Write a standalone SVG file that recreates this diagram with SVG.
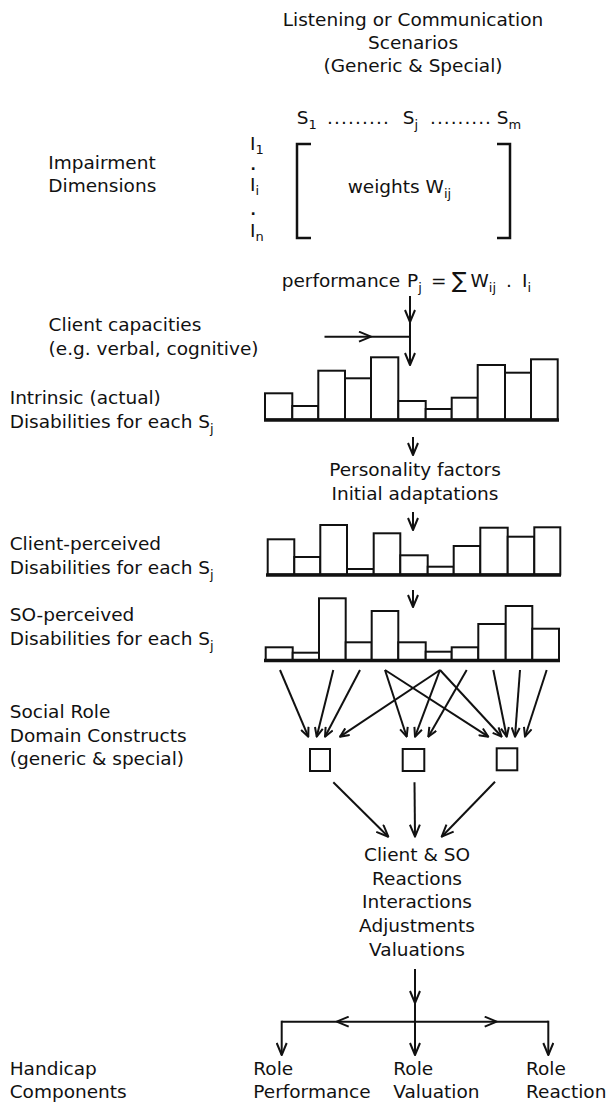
<svg xmlns="http://www.w3.org/2000/svg" width="609" height="1103" viewBox="0 0 609 1103">
<style>
.t{font-family:"DejaVu Sans","Liberation Sans",sans-serif;font-size:18.5px;fill:#111}
.c{text-anchor:middle}
.sub{font-size:13px}
.dot{font-size:14px;font-weight:bold}
.ln{stroke:#111;stroke-width:2;fill:none}
.bar{fill:#fff;stroke:#111;stroke-width:2}
.base{stroke:#111;stroke-width:3.5}
.br{stroke:#111;stroke-width:2.5;fill:none}
</style>
<defs>
<marker id="ah" markerUnits="userSpaceOnUse" viewBox="0 0 14 12" refX="13" refY="6" markerWidth="14" markerHeight="12" orient="auto"><path d="M1,1 L13,6 L1,11" fill="none" stroke="#111" stroke-width="2" stroke-linejoin="round"/></marker>
<marker id="ahs" markerUnits="userSpaceOnUse" viewBox="0 0 11 10" refX="10" refY="5" markerWidth="11" markerHeight="10" orient="auto"><path d="M1,1 L10,5 L1,9" fill="none" stroke="#111" stroke-width="2" stroke-linejoin="round"/></marker>
</defs>
<rect width="609" height="1103" fill="#fff"/>

<g id="scenarios">
<text class="t c" x="413" y="26">Listening or Communication</text>
<text class="t c" x="413" y="49">Scenarios</text>
<text class="t c" x="413" y="72">(Generic &amp; Special)</text>
<text class="t" x="296.7" y="124">S<tspan class="sub" dy="5">1</tspan></text>
<text class="t" x="327" y="124" textLength="62">.........</text>
<text class="t" x="402.7" y="124">S<tspan class="sub" dy="5">j</tspan></text>
<text class="t" x="430" y="124" textLength="61">.........</text>
<text class="t" x="496.7" y="124">S<tspan class="sub" dy="5">m</tspan></text>
</g>

<g id="impairment">
<text class="t" x="48.3" y="169">Impairment</text>
<text class="t" x="48.3" y="192">Dimensions</text>
<text class="t" x="250" y="150">I<tspan class="sub" dy="4">1</tspan></text>
<text class="t dot" x="250.5" y="170">.</text>
<text class="t" x="250" y="191">I<tspan class="sub" dy="4">i</tspan></text>
<text class="t dot" x="250.5" y="215">.</text>
<text class="t" x="250" y="237">I<tspan class="sub" dy="4">n</tspan></text>
</g>

<g id="matrix">
<path class="br" d="M311,144 L297,144 L297,238 L311,238"/>
<path class="br" d="M497,144 L510,144 L510,238 L497,238"/>
<text class="t" x="347.7" y="193">weights W<tspan class="sub" dy="5">ij</tspan></text>
</g>

<g id="performance">
<text class="t" x="281.7" y="287">performance</text>
<text class="t" x="407" y="287">P<tspan class="sub" dy="5">j</tspan></text>
<text class="t" x="431" y="287">=</text>
<text class="t" x="452" y="288" style="font-size:22px">∑</text>
<text class="t" x="470.5" y="287">W<tspan class="sub" dy="5">ij</tspan></text>
<text class="t" x="506" y="287">.</text>
<text class="t" x="522" y="287">I<tspan class="sub" dy="5">i</tspan></text>
</g>

<g id="client-capacities">
<text class="t" x="48.6" y="331">Client capacities</text>
<text class="t" x="48.6" y="355">(e.g. verbal, cognitive)</text>
</g>

<g id="intrinsic">
<text class="t" x="9.7" y="404">Intrinsic (actual)</text>
<text class="t" x="9.7" y="428">Disabilities for each S<tspan class="sub" dy="5">j</tspan></text>
<rect class="bar" x="265" y="393.3" width="27.3" height="26.2"/>
<rect class="bar" x="292.3" y="406" width="26" height="13.5"/>
<rect class="bar" x="318.3" y="370.7" width="26.7" height="48.8"/>
<rect class="bar" x="345" y="378.3" width="26" height="41.2"/>
<rect class="bar" x="371" y="357.3" width="27.3" height="62.2"/>
<rect class="bar" x="398.3" y="401" width="27.4" height="18.5"/>
<rect class="bar" x="425.7" y="409" width="26" height="10.5"/>
<rect class="bar" x="451.7" y="397.7" width="26" height="21.8"/>
<rect class="bar" x="477.7" y="365" width="27.3" height="54.5"/>
<rect class="bar" x="505" y="372.7" width="26" height="46.8"/>
<rect class="bar" x="531" y="359.3" width="26.7" height="60.2"/>
<line class="base" x1="264" y1="420" x2="559" y2="420"/>
</g>

<g id="personality">
<text class="t c" x="415" y="476">Personality factors</text>
<text class="t c" x="415" y="500">Initial adaptations</text>
</g>

<g id="client-perceived">
<text class="t" x="9.7" y="550">Client-perceived</text>
<text class="t" x="9.7" y="573.5">Disabilities for each S<tspan class="sub" dy="5">j</tspan></text>
<rect class="bar" x="267.7" y="539.3" width="26.6" height="35.2"/>
<rect class="bar" x="294.3" y="557" width="26" height="17.5"/>
<rect class="bar" x="320.3" y="525" width="26.7" height="49.5"/>
<rect class="bar" x="347" y="569" width="26.7" height="5.5"/>
<rect class="bar" x="373.7" y="533.3" width="26.6" height="41.2"/>
<rect class="bar" x="400.3" y="555.3" width="27.4" height="19.2"/>
<rect class="bar" x="427.7" y="566.7" width="26" height="7.8"/>
<rect class="bar" x="453.7" y="546" width="26.6" height="28.5"/>
<rect class="bar" x="480.3" y="527.7" width="27.4" height="46.8"/>
<rect class="bar" x="507.7" y="536.7" width="26.6" height="37.8"/>
<rect class="bar" x="534.3" y="527.3" width="26" height="47.2"/>
<line class="base" x1="266" y1="575" x2="561" y2="575"/>
</g>

<g id="so-perceived">
<text class="t" x="9.7" y="621">SO-perceived</text>
<text class="t" x="9.7" y="645">Disabilities for each S<tspan class="sub" dy="5">j</tspan></text>
<rect class="bar" x="265.7" y="647.3" width="27" height="12.7"/>
<rect class="bar" x="292.7" y="652.7" width="26.3" height="7.3"/>
<rect class="bar" x="319" y="598.3" width="26.7" height="61.7"/>
<rect class="bar" x="345.7" y="642.3" width="26" height="17.7"/>
<rect class="bar" x="371.7" y="611" width="26.6" height="49"/>
<rect class="bar" x="398.3" y="642.3" width="27.4" height="17.7"/>
<rect class="bar" x="425.7" y="651.7" width="26" height="8.3"/>
<rect class="bar" x="451.7" y="647.3" width="26.6" height="12.7"/>
<rect class="bar" x="478.3" y="624" width="27.4" height="36"/>
<rect class="bar" x="505.7" y="606" width="26.6" height="54"/>
<rect class="bar" x="532.3" y="628.7" width="26.7" height="31.3"/>
<line class="base" x1="264" y1="660.5" x2="560" y2="660.5"/>
</g>

<g id="social-role">
<text class="t" x="9.7" y="718">Social Role</text>
<text class="t" x="9.7" y="742">Domain Constructs</text>
<text class="t" x="9.7" y="765">(generic &amp; special)</text>
<rect class="bar" x="310" y="749" width="20" height="22"/>
<rect class="bar" x="402.7" y="749" width="21.6" height="22"/>
<rect class="bar" x="496.7" y="748.3" width="20.6" height="22"/>
</g>

<g id="reactions">
<text class="t c" x="417" y="861">Client &amp; SO</text>
<text class="t c" x="417" y="884.5">Reactions</text>
<text class="t c" x="417" y="908.3">Interactions</text>
<text class="t c" x="417" y="932">Adjustments</text>
<text class="t c" x="417" y="955.7">Valuations</text>
</g>

<g id="handicap">
<text class="t" x="9.7" y="1075">Handicap</text>
<text class="t" x="9.7" y="1098">Components</text>
</g>
<g id="role-performance">
<text class="t" x="253.3" y="1075">Role</text>
<text class="t" x="253.3" y="1098">Performance</text>
</g>
<g id="role-valuation">
<text class="t" x="393.3" y="1075">Role</text>
<text class="t" x="393.3" y="1098">Valuation</text>
</g>
<g id="role-reaction">
<text class="t" x="526" y="1075">Role</text>
<text class="t" x="526" y="1098">Reaction</text>
</g>

<g id="connectors">
<line class="ln" x1="410" y1="296" x2="410" y2="322" marker-end="url(#ah)"/>
<line class="ln" x1="410" y1="322" x2="410" y2="365" marker-end="url(#ah)"/>
<line class="ln" x1="324.5" y1="336.7" x2="371" y2="336.7" marker-end="url(#ah)"/>
<line class="ln" x1="371" y1="336.7" x2="410" y2="336.7"/>
<line class="ln" x1="413" y1="437" x2="413" y2="455" marker-end="url(#ah)"/>
<line class="ln" x1="413" y1="512" x2="413" y2="530" marker-end="url(#ah)"/>
<line class="ln" x1="413" y1="590" x2="413" y2="607" marker-end="url(#ah)"/>

<line class="ln" x1="280" y1="670" x2="308.3" y2="736.7" marker-end="url(#ahs)"/>
<line class="ln" x1="333.3" y1="670" x2="316.7" y2="736.7" marker-end="url(#ahs)"/>
<line class="ln" x1="360" y1="670" x2="325" y2="736.7" marker-end="url(#ahs)"/>
<line class="ln" x1="385" y1="670" x2="406.7" y2="736.7" marker-end="url(#ahs)"/>
<line class="ln" x1="385" y1="670" x2="488.3" y2="736.7" marker-end="url(#ahs)"/>
<line class="ln" x1="440" y1="670" x2="340" y2="736.7" marker-end="url(#ahs)"/>
<line class="ln" x1="440" y1="670" x2="415" y2="736.7" marker-end="url(#ahs)"/>
<line class="ln" x1="440" y1="670" x2="501.7" y2="736.7" marker-end="url(#ahs)"/>
<line class="ln" x1="466.7" y1="670" x2="428.3" y2="736.7" marker-end="url(#ahs)"/>
<line class="ln" x1="493.3" y1="670" x2="506.7" y2="736.7" marker-end="url(#ahs)"/>
<line class="ln" x1="520" y1="670" x2="515" y2="736.7" marker-end="url(#ahs)"/>
<line class="ln" x1="546.7" y1="670" x2="525" y2="736.7" marker-end="url(#ahs)"/>

<line class="ln" x1="333.3" y1="782.3" x2="388.3" y2="836.7" marker-end="url(#ah)"/>
<line class="ln" x1="414.5" y1="782.3" x2="415" y2="836.7" marker-end="url(#ah)"/>
<line class="ln" x1="495" y1="781.7" x2="441.7" y2="836.7" marker-end="url(#ah)"/>

<line class="ln" x1="415" y1="969" x2="415" y2="1003" marker-end="url(#ah)"/>
<line class="ln" x1="415" y1="1003" x2="415" y2="1021.7"/>
<line class="ln" x1="415" y1="1021.7" x2="336.7" y2="1021.7" marker-end="url(#ah)"/>
<line class="ln" x1="336.7" y1="1021.7" x2="281.7" y2="1021.7"/>
<line class="ln" x1="415" y1="1021.7" x2="496.7" y2="1021.7" marker-end="url(#ah)"/>
<line class="ln" x1="496.7" y1="1021.7" x2="548.3" y2="1021.7"/>
<line class="ln" x1="281.7" y1="1020.7" x2="281.7" y2="1055" marker-end="url(#ah)"/>
<line class="ln" x1="415" y1="1021.7" x2="415" y2="1055" marker-end="url(#ah)"/>
<line class="ln" x1="548.3" y1="1020.7" x2="548.3" y2="1055" marker-end="url(#ah)"/>
</g>
</svg>
